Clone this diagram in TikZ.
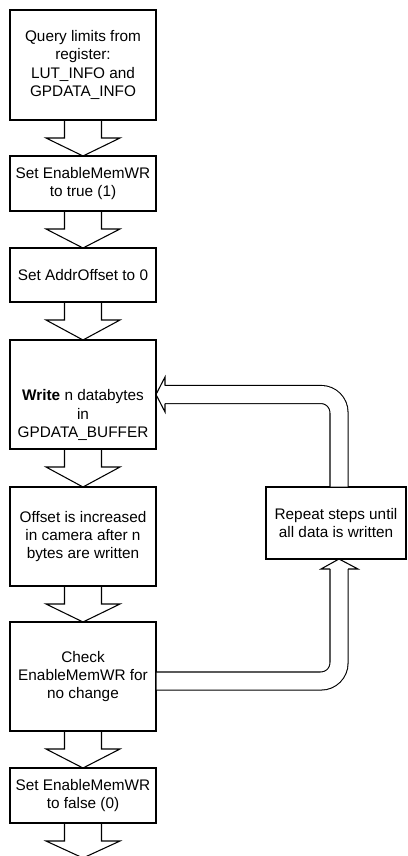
\documentclass[tikz,border=0pt]{standalone}
\usepackage{fontspec}
\setmainfont{Liberation Sans}
\usetikzlibrary{calc}

\begin{document}
\begin{tikzpicture}
  [x=0.75pt,y=-0.75pt,
   stepbox/.style={rectangle,draw=black,fill=white,line width=0.8pt,align=center,
                   outer sep=0,inner sep=2pt,minimum width=109.5pt,
                   font=\fontsize{11.5pt}{13.7pt}\selectfont},
   blockarrow/.style={line width=0.8pt,to path={
       ($(\tikztostart)+(-18.5,0)$) -- ($(\tikztostart)+(-18.5,18)$)
       -- ($(\tikztostart)+(-37,18)$) -- (\tikztotarget)
       -- ($(\tikztostart)+(37,18)$) -- ($(\tikztostart)+(18.5,18)$)
       -- ($(\tikztostart)+(18.5,0)$)}},
   loopline/.style={draw=black,line width=0.8pt,double=white,
                    double distance=12.75pt,rounded corners=13.5pt},
   loophead/.style={line width=0.8pt}]
  \useasboundingbox (0,0) rectangle (407,856);
  \node[stepbox,minimum height=82.5pt] (query) at (83,65) {Query limits from\\register:\\LUT\_INFO and\\GPDATA\_INFO};
  \node[stepbox,minimum height=41.25pt] (enabletrue) at (83,183.5) {Set EnableMemWR\\to true (1)};
  \node[stepbox,minimum height=40.5pt] (addroffset) at (83,275) {Set AddrOffset to 0};
  \node[stepbox,minimum height=81.75pt,text height=66.5pt] (write) at (83,394.5) {\textbf{Write} n databytes\\in\\GPDATA\_BUFFER};
  \node[stepbox,minimum height=74.25pt] (increase) at (83,536.5) {Offset is increased\\in camera after n\\bytes are written};
  \node[stepbox,minimum height=81.75pt] (check) at (83,676.5) {Check\\EnableMemWR for\\no change};
  \node[stepbox,minimum height=41.25pt] (enablefalse) at (83,795.5) {Set EnableMemWR\\to false (0)};
  \node[stepbox,minimum width=105pt,minimum height=54pt] (repeatbox) at (336,523) {Repeat steps until\\all data is written};
  \coordinate (done) at (83,858);
  % down arrows
  \draw[blockarrow] (query.south) to (enabletrue.north);
  \draw[blockarrow] (enabletrue.south) to (addroffset.north);
  \draw[blockarrow] (addroffset.south) to (write.north);
  \draw[blockarrow] (write.south) to (increase.north);
  \draw[blockarrow] (increase.south) to (check.north);
  \draw[blockarrow] (check.south) to (enablefalse.north);
  \draw[blockarrow] (enablefalse.south) to (done);
  % loop back
  \draw[loopline] ($(check.east)+(0.5,4.5)$) -| ($(repeatbox.south)+(3,10)$);
  \draw[loophead] ($(repeatbox.south)+(-6,10)$) -- ++(-9,0) -- ($(repeatbox.south)+(3,0)$)
    -- ($(repeatbox.south)+(22,10)$) -- ++(-10,0);
  \draw[loopline] ($(repeatbox.north)+(3,-0.5)$) |- ($(write.east)+(9,0)$);
  \draw[loophead] ($(write.east)+(9,-9)$) -- ++(0,-8.5) -- (write.east)
    -- ($(write.east)+(9,17.5)$) -- ++(0,-8.5);
\end{tikzpicture}
\end{document}
